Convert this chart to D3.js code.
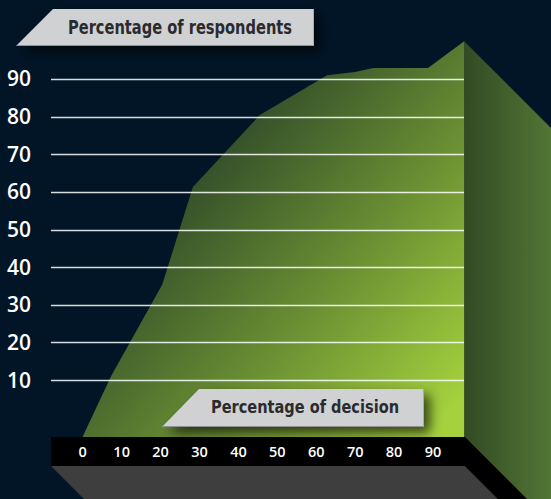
<!DOCTYPE html>
<html>
<head>
<meta charset="utf-8">
<script src="https://cdn.jsdelivr.net/npm/d3@7"></script>
<style>
  html, body { margin: 0; padding: 0; background: #011526; }
  svg { display: block; }
</style>
</head>
<body>
<svg id="chart" width="551" height="499"></svg>
<script>
// ---- data ----
const decisionPct   = [0, 7.3, 20.4, 28.3, 45.5, 62.8, 70, 74.6, 88.7, 98];
const respondentPct = [-5, 11.1, 35.3, 61.3, 80.4, 91.0, 91.8, 92.9, 92.9, 100];
const xTickValues = [0, 10, 20, 30, 40, 50, 60, 70, 80, 90];
const yTickValues = [10, 20, 30, 40, 50, 60, 70, 80, 90];
const yTitle = "Percentage of respondents";
const xTitle = "Percentage of decision";

// ---- layout ----
const W = 551, H = 499;
const gridLeft = 51, faceRight = 464;
const barTop = 437, barBottom = 466, barLeft = 51, barRight = 465;
const depth = 220;

const svg = d3.select("#chart");
const x = d3.scaleLinear().domain([0, 90]).range([82.75, 82.75 + 3.892 * 90]);
const y = d3.scaleLinear().domain([0, 100]).range([417.75, 417.75 - 376.5]);

const defs = svg.append("defs");
const gFront = defs.append("linearGradient").attr("id", "front")
  .attr("gradientUnits", "userSpaceOnUse")
  .attr("x1", 200).attr("y1", 173).attr("x2", 461).attr("y2", 398);
gFront.append("stop").attr("offset", 0).attr("stop-color", "#35502a");
gFront.append("stop").attr("offset", 0.5).attr("stop-color", "#6a8f33");
gFront.append("stop").attr("offset", 1).attr("stop-color", "#a4d13d");

const gSide = defs.append("linearGradient").attr("id", "side")
  .attr("x1", 0).attr("y1", 0).attr("x2", 1).attr("y2", 0);
gSide.append("stop").attr("offset", 0).attr("stop-color", "#334a24");
gSide.append("stop").attr("offset", 0.45).attr("stop-color", "#557c37");
gSide.append("stop").attr("offset", 1).attr("stop-color", "#5e8a3c");

const sh = defs.append("filter").attr("id", "shadow")
  .attr("x", "-20%").attr("y", "-40%").attr("width", "150%").attr("height", "200%");
sh.append("feDropShadow").attr("dx", 6).attr("dy", 6).attr("stdDeviation", 6)
  .attr("flood-color", "#000").attr("flood-opacity", 0.65);

// ---- side face (extrusion of the right edge) ----
const peakX = x(decisionPct[decisionPct.length - 1]);
const peakY = y(respondentPct[respondentPct.length - 1]);
svg.append("polygon")
  .attr("points", [[peakX, peakY], [peakX + depth, peakY + depth], [peakX + depth, barTop + depth], [peakX, barTop]].join(" "))
  .attr("fill", "url(#side)");

// ---- front area ----
const pts = decisionPct.map((d, i) => ({ x: d, y: respondentPct[i] }));
const area = d3.area()
  .x(d => x(d.x))
  .y0(barTop)
  .y1(d => y(d.y));
svg.append("path").datum(pts).attr("d", area).attr("fill", "url(#front)");

// ---- gridlines ----
svg.append("g").selectAll("line").data(yTickValues).join("line")
  .attr("x1", gridLeft).attr("x2", faceRight)
  .attr("y1", d => Math.round(y(d)) + 0.5).attr("y2", d => Math.round(y(d)) + 0.5)
  .attr("stroke", "#ffffff").attr("stroke-opacity", 0.85).attr("stroke-width", 1.3);

// ---- y labels ----
svg.append("g").selectAll("text").data(yTickValues).join("text")
  .attr("x", 7).attr("y", d => y(d) + 7.5)
  .attr("fill", "#ffffff")
  .style("font-family", "'Open Sans', 'DejaVu Sans', sans-serif")
  .style("font-weight", 600).style("font-size", "21px")
  .text(d => d);

// ---- floor and axis bar ----
svg.append("polygon")
  .attr("points", [[barLeft, barBottom], [barRight, barBottom], [barRight + depth, barBottom + depth], [barLeft + depth, barBottom + depth]].join(" "))
  .attr("fill", "#3e3e3f");
svg.append("polygon")
  .attr("points", [[barRight, barTop], [barRight + depth, barTop + depth], [barRight + depth, barBottom + depth], [barRight, barBottom]].join(" "))
  .attr("fill", "#000000");
svg.append("rect")
  .attr("x", barLeft).attr("y", barTop).attr("width", barRight - barLeft).attr("height", barBottom - barTop)
  .attr("fill", "#000000");

// ---- x labels ----
svg.append("g").selectAll("text").data(xTickValues).join("text")
  .attr("x", d => x(d)).attr("y", 457)
  .attr("text-anchor", "middle")
  .attr("fill", "#ffffff")
  .style("font-family", "'Open Sans', 'DejaVu Sans', sans-serif")
  .style("font-weight", 600).style("font-size", "14.5px")
  .text(d => d);

// ---- title boxes ----
function labelBox(x0, xTopLeft, x1, yTop, yBot, text, tx, tLen, baseline, fs) {
  const g = svg.append("g");
  g.append("polygon")
    .attr("points", [[x0, yBot], [xTopLeft, yTop], [x1, yTop], [x1, yBot]].join(" "))
    .attr("fill", "#d0d1d3")
    .attr("filter", "url(#shadow)");
  g.append("line").attr("x1", x0 + 1).attr("x2", x1).attr("y1", yBot - 0.5).attr("y2", yBot - 0.5)
    .attr("stroke", "#8f9193").attr("stroke-width", 1);
  g.append("line").attr("x1", x1 - 0.5).attr("x2", x1 - 0.5).attr("y1", yTop).attr("y2", yBot)
    .attr("stroke", "#a9abad").attr("stroke-width", 1);
  g.append("text")
    .attr("x", tx).attr("y", baseline)
    .attr("textLength", tLen).attr("lengthAdjust", "spacingAndGlyphs")
    .attr("fill", "#2b2b2d")
    .style("font-family", "'Liberation Sans Narrow', 'DejaVu Sans Condensed', Roboto, sans-serif")
    .style("font-weight", 700).style("font-size", fs + "px")
    .text(text);
}
labelBox(16, 53, 314, 9, 46, yTitle, 68, 224, 33.5, 19);
labelBox(162, 199, 424, 389, 427, xTitle, 211, 188, 412.5, 18.5);
</script>
</body>
</html>
